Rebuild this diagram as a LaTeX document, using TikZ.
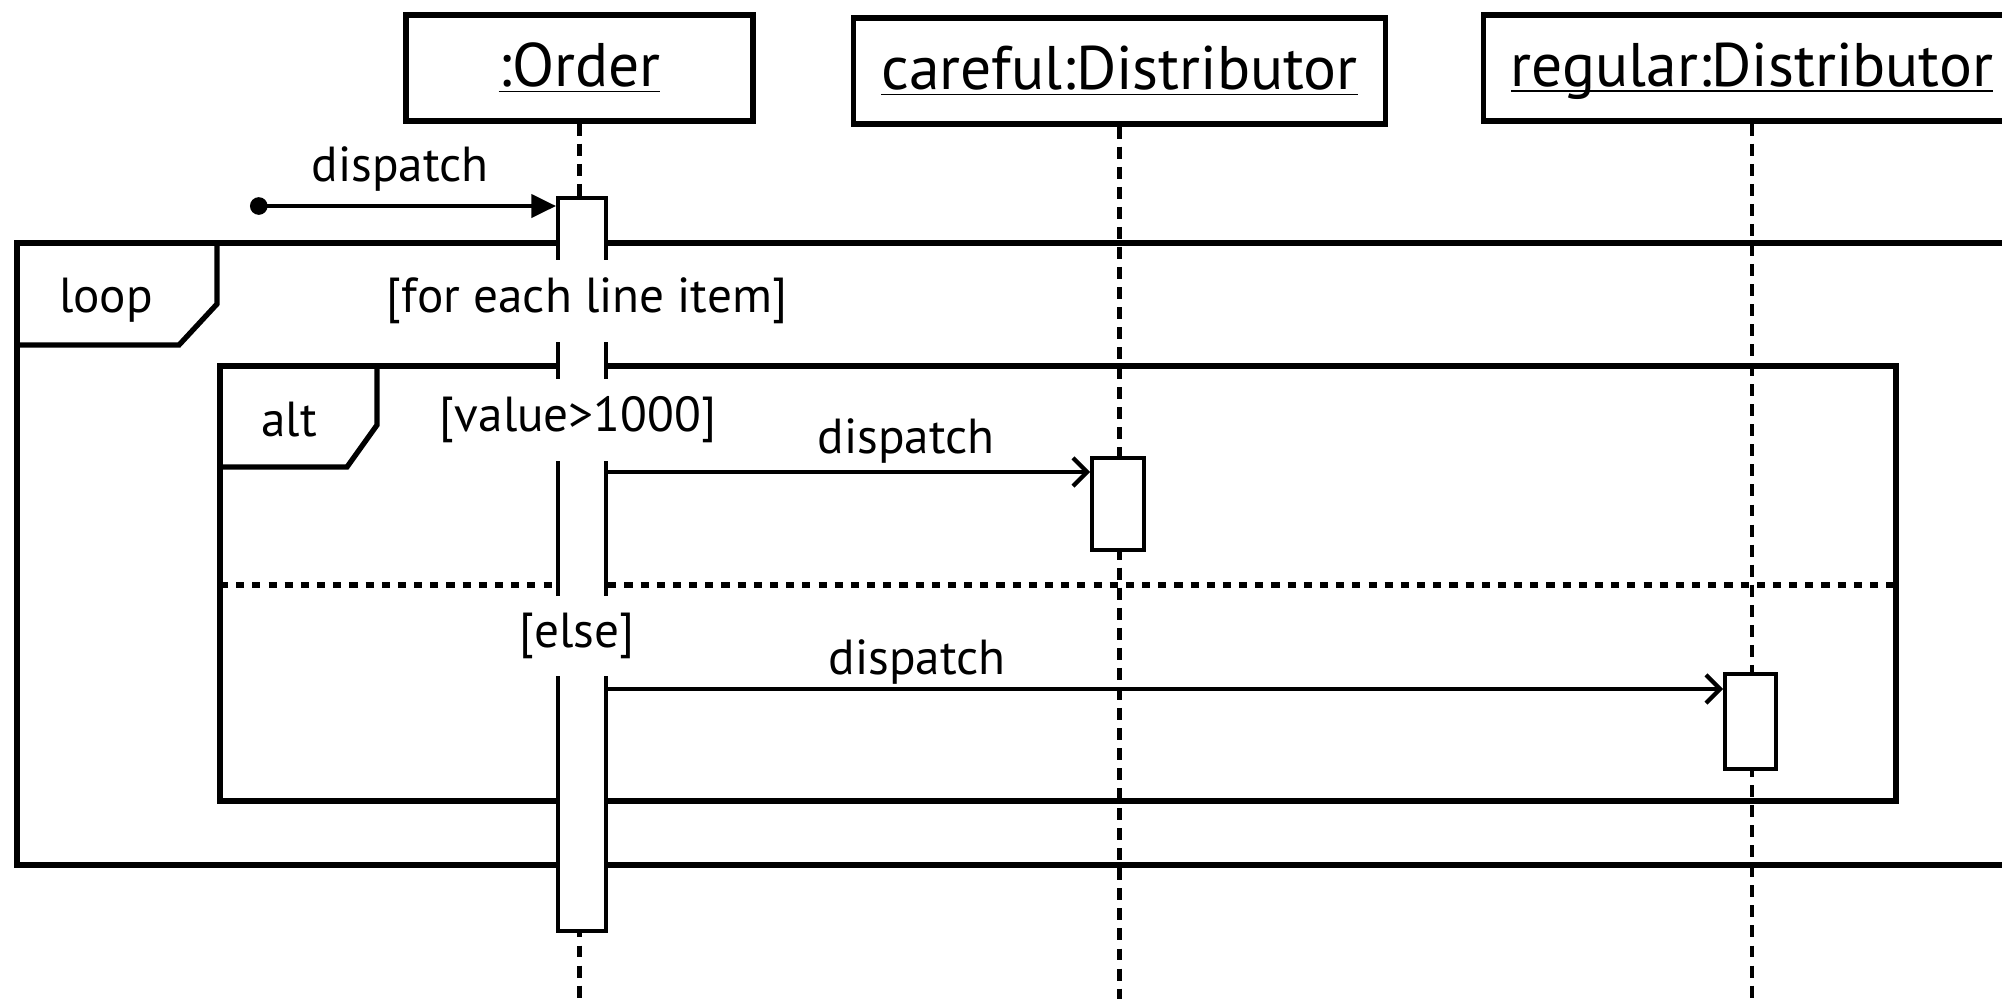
\documentclass[tikz,border=0pt]{standalone}
\usepackage{fontspec}
\setmainfont{PT Sans}
\usetikzlibrary{arrows.meta}
\newcommand{\objname}[1]{\underline{\raisebox{0pt}[\height][0pt]{#1}}}
\tikzset{
  object/.style={draw, line width=1.5pt, minimum height=1.06cm, inner sep=0pt, font=\fontsize{17.5}{21}\selectfont},
  lifeline/.style={line width=1.2pt, dash pattern=on 3.4pt off 2.3pt},
  activation/.style={draw, fill=white, line width=1.1pt, minimum width=0.48cm, inner sep=0pt},
  fragment/.style={line width=1.5pt},
  guard/.style={fill=white, inner ysep=5pt, inner xsep=2pt},
  msg/.style={line width=1.2pt, -{Straight Barb[length=4pt, width=8pt, line width=1.2pt]}},
  found/.style={line width=1.2pt, {Circle[length=5pt]}-{Triangle[length=7pt, width=6.5pt]}}
}
\begin{document}
\begin{tikzpicture}[x=0.01cm, y=-0.01cm, font=\fontsize{14}{17}\selectfont]
  \useasboundingbox (0,0) rectangle (2002,999);
  \coordinate (bottom) at (0,999);

  \node (order) at (579.5,68) [object, minimum width=3.47cm] {\objname{:Order}};
  \node (careful) at (1119.5,71) [object, minimum width=5.31cm] {\objname{careful:Distributor}};
  \node (regular) at (1752,68) [object, minimum width=5.36cm] {\objname{regular:Distributor}};

  \draw[lifeline] (order.south) -- (order.south |- bottom);
  \draw[lifeline] (careful.south) -- (careful.south |- bottom);
  \draw[lifeline] (regular.south) -- (regular.south |- bottom);

  \draw[fragment] (17,243) rectangle (2030,865);
  \draw[fragment] (17,345) -- (179,345) -- (217,304) -- (217,243);
  \node (loop) at (106,300) {loop};
  \draw[fragment] (220,366) rectangle (1896,801);
  \draw[fragment] (220,467) -- (347,467) -- (377,425) -- (377,366);
  \node (alt) at (289,420) {alt};
  \draw[fragment, line width=1.7pt, dash pattern=on 2.3pt off 2.3pt] (220,585) -- (1896,585);

  \node (act1) at (582,564.5) [activation, minimum height=7.33cm] {};
  \node (act2) at (1118,504) [activation, minimum width=0.52cm, minimum height=0.92cm] {};
  \node (act3) at (1750.5,721.5) [activation, minimum width=0.51cm, minimum height=0.95cm] {};

  \node (g1) at (587,301) [guard] {[for each line item]};
  \node (g2) at (578,420) [guard] {[value>1000]};
  \node (g3) at (577,636) [guard] {[else]};

  \coordinate (m0) at (250,206);
  \coordinate (m1) at (0,472);
  \coordinate (m2) at (0,689);
  \draw[found] (m0) -- (m0 -| act1.west);
  \node (l0) at (400,169) {dispatch};
  \draw[msg] (act1.east |- m1) -- (act2.west |- m1);
  \node (l1) at (906,441) {dispatch};
  \draw[msg] (act1.east |- m2) -- (act3.west |- m2);
  \node (l2) at (917,662) {dispatch};
\end{tikzpicture}
\end{document}
